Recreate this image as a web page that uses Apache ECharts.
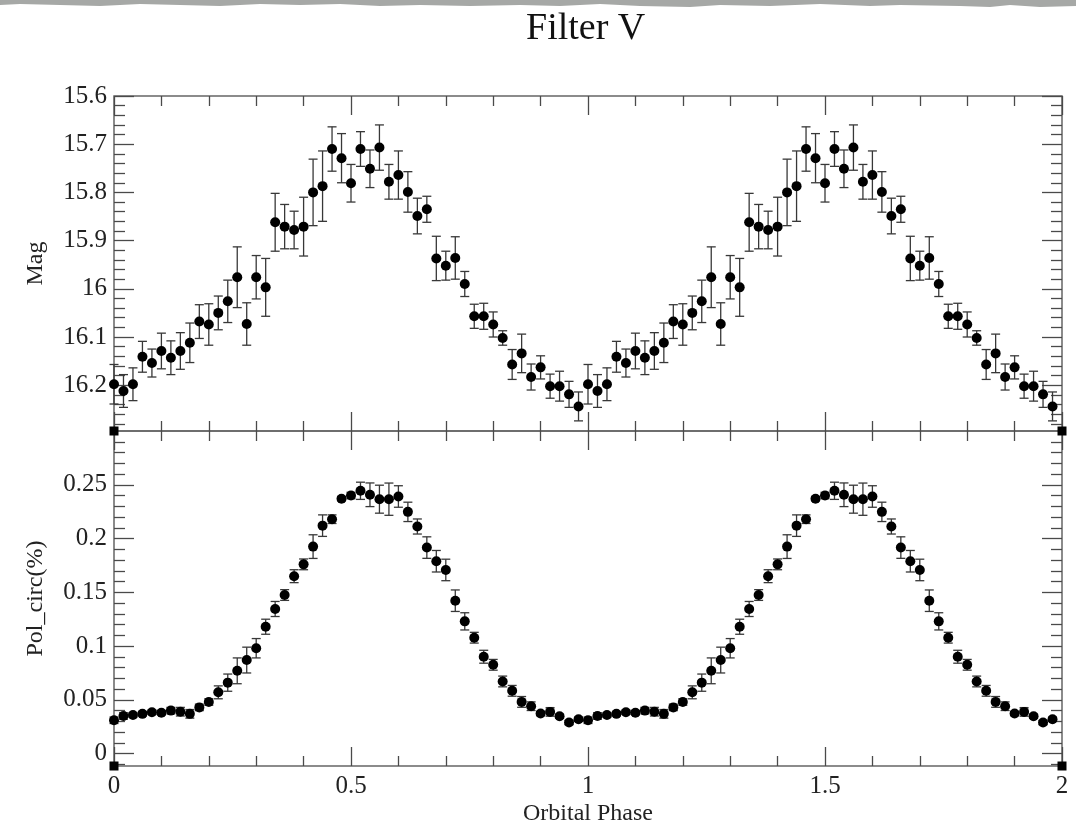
<!DOCTYPE html>
<html>
<head>
<meta charset="utf-8">
<title>Filter V</title>
<script src="https://cdn.jsdelivr.net/npm/echarts@6/dist/echarts.min.js"></script>
<style>
  html, body { margin: 0; padding: 0; background: #ffffff; }
  #chart { width: 1076px; height: 833px; }
</style>
</head>
<body>
<div id="chart"></div>
<script>
// Phase bins of one orbital cycle (the plot repeats it over two cycles)
const phase = [0.00, 0.02, 0.04, 0.06, 0.08, 0.10, 0.12, 0.14, 0.16, 0.18,
               0.20, 0.22, 0.24, 0.26, 0.28, 0.30, 0.32, 0.34, 0.36, 0.38,
               0.40, 0.42, 0.44, 0.46, 0.48, 0.50, 0.52, 0.54, 0.56, 0.58,
               0.60, 0.62, 0.64, 0.66, 0.68, 0.70, 0.72, 0.74, 0.76, 0.78,
               0.80, 0.82, 0.84, 0.86, 0.88, 0.90, 0.92, 0.94, 0.96, 0.98];

// V magnitude and its 1-sigma error
const magV = [16.198, 16.212, 16.198, 16.141, 16.154, 16.129, 16.143, 16.129, 16.112, 16.068,
              16.074, 16.050, 16.026, 15.976, 16.073, 15.976, 15.997, 15.862, 15.871, 15.878,
              15.871, 15.800, 15.787, 15.710, 15.729, 15.781, 15.710, 15.751, 15.707, 15.778,
              15.764, 15.799, 15.849, 15.835, 15.937, 15.952, 15.936, 15.990, 16.057, 16.057,
              16.074, 16.102, 16.157, 16.134, 16.183, 16.163, 16.202, 16.202, 16.219, 16.244];
const magErr = [0.041, 0.034, 0.034, 0.032, 0.029, 0.037, 0.035, 0.038, 0.041, 0.035,
                0.043, 0.035, 0.044, 0.063, 0.044, 0.045, 0.060, 0.060, 0.046, 0.039,
                0.061, 0.069, 0.073, 0.046, 0.051, 0.039, 0.036, 0.039, 0.047, 0.036,
                0.050, 0.042, 0.037, 0.027, 0.046, 0.030, 0.044, 0.026, 0.025, 0.027,
                0.026, 0.015, 0.031, 0.040, 0.027, 0.024, 0.025, 0.031, 0.027, 0.030];

// Circular polarisation and its 1-sigma error
const polCirc = [0.0310, 0.0350, 0.0360, 0.0370, 0.0385, 0.0380, 0.0400, 0.0390, 0.0370, 0.0430,
                 0.0480, 0.0570, 0.0660, 0.0770, 0.0870, 0.0980, 0.1180, 0.1345, 0.1475, 0.1650,
                 0.1760, 0.1925, 0.2120, 0.2180, 0.2370, 0.2400, 0.2444, 0.2407, 0.2366, 0.2366,
                 0.2391, 0.2248, 0.2112, 0.1916, 0.1789, 0.1708, 0.1422, 0.1230, 0.1078, 0.0901,
                 0.0826, 0.0671, 0.0584, 0.0481, 0.0441, 0.0373, 0.0388, 0.0348, 0.0289, 0.0320];
const polErr = [0.003, 0.003, 0.002, 0.002, 0.002, 0.002, 0.003, 0.004, 0.004, 0.003,
                0.003, 0.006, 0.008, 0.012, 0.012, 0.009, 0.007, 0.007, 0.005, 0.006,
                0.005, 0.011, 0.010, 0.004, 0.002, 0.003, 0.008, 0.011, 0.013, 0.015,
                0.010, 0.009, 0.007, 0.010, 0.010, 0.010, 0.010, 0.008, 0.005, 0.006,
                0.005, 0.005, 0.005, 0.005, 0.004, 0.002, 0.004, 0.002, 0.002, 0.002];

// Labelled tick values
const xTicks = [0, 0.5, 1, 1.5, 2];
const magTicks = [15.6, 15.7, 15.8, 15.9, 16, 16.1, 16.2];
const polTicks = [0, 0.05, 0.1, 0.15, 0.2, 0.25];
const cycles = [0, 1];

// Unlabelled (minor) tick positions between the labelled ones
function minorTicks(start, step, count, every, offset) {
  const out = [];
  for (let k = 0; k <= count; k++) {
    if ((k + offset) % every !== 0) out.push(Math.round((start + step * k) * 10000) / 10000);
  }
  return out;
}
const xMinor = minorTicks(0, 0.1, 20, 5, 0);
const magMinor = minorTicks(15.6, 0.02, 34, 5, 0);
const polMinor = minorTicks(-0.01, 0.01, 39, 5, -1);

// Fold the single-cycle bins onto two cycles
function folded(values, errors) {
  const pts = [], bars = [];
  cycles.forEach(c => {
    phase.forEach((p, i) => {
      const x = Math.round((p + c) * 100) / 100;
      pts.push([x, values[i]]);
      bars.push([x, values[i] - errors[i], values[i] + errors[i]]);
    });
  });
  return { pts, bars };
}
const magData = folded(magV, magErr);
const polData = folded(polCirc, polErr);

const FONT = '"Liberation Serif", "Times New Roman", serif';
const INK = '#222222';
const TICK = { color: '#4a4a4a', width: 1.3 };

const MAG_MIN = 15.6, MAG_MAX = 16.295;
const POL_MIN = -0.0115, POL_MAX = 0.3;

function xAxisDef(grid, pos, values, len, withLabels, name) {
  return {
    type: 'value', gridIndex: grid, position: pos, min: 0, max: 2,
    axisLine: { show: false, onZero: false },
    splitLine: { show: false },
    axisTick: { show: true, inside: true, length: len, customValues: values, lineStyle: TICK },
    axisLabel: withLabels
      ? { show: true, customValues: values, margin: 8, color: INK, fontFamily: FONT, fontSize: 25 }
      : { show: false },
    name: name || '',
    nameLocation: 'middle', nameGap: 36,
    nameTextStyle: { color: INK, fontFamily: FONT, fontSize: 24 }
  };
}
function yAxisDef(grid, pos, min, max, inverse, values, len, withLabels, name) {
  return {
    type: 'value', gridIndex: grid, position: pos, min: min, max: max, inverse: inverse,
    axisLine: { show: false, onZero: false },
    splitLine: { show: false },
    axisTick: { show: true, inside: true, length: len, customValues: values, lineStyle: TICK },
    axisLabel: withLabels
      ? { show: true, customValues: values, margin: 7, color: INK, fontFamily: FONT, fontSize: 25 }
      : { show: false },
    name: name || '',
    nameLocation: 'middle', nameGap: 66,
    nameTextStyle: { color: INK, fontFamily: FONT, fontSize: 24 }
  };
}

function errorBarItem(params, api) {
  const x = api.value(0);
  const lo = api.coord([x, api.value(1)]);
  const hi = api.coord([x, api.value(2)]);
  const w = 4.5;
  const style = { stroke: '#383838', lineWidth: 1.3, fill: null };
  return {
    type: 'group',
    children: [
      { type: 'line', shape: { x1: lo[0], y1: lo[1], x2: hi[0], y2: hi[1] }, style: style },
      { type: 'line', shape: { x1: lo[0] - w, y1: lo[1], x2: lo[0] + w, y2: lo[1] }, style: style },
      { type: 'line', shape: { x1: hi[0] - w, y1: hi[1], x2: hi[0] + w, y2: hi[1] }, style: style }
    ]
  };
}

const GRID_L = 114, GRID_W = 948, TOP0 = 96, H0 = 335, TOP1 = 431, H1 = 335;

// Corner markers on the panel frames
const corners = [[GRID_L, TOP1], [GRID_L, TOP1 + H1], [GRID_L + GRID_W, TOP1], [GRID_L + GRID_W, TOP1 + H1]];

// Torn grey edge along the top of the page
const tornEdge = [[0, 0], [1076, 0], [1076, 6], [1040, 7], [1010, 5], [990, 7], [960, 6], [900, 5],
                  [870, 6], [820, 4], [770, 6], [720, 5], [690, 7], [640, 6], [600, 4], [560, 6],
                  [520, 5], [470, 6], [420, 5], [380, 6], [340, 4], [300, 5], [260, 4], [220, 6],
                  [180, 5], [140, 4], [100, 6], [60, 5], [20, 4], [0, 5]];

const chart = echarts.init(document.getElementById('chart'), null, { renderer: 'canvas' });

chart.setOption({
  backgroundColor: '#ffffff',
  animation: false,
  title: {
    text: 'Filter V', left: 526, top: 10, padding: 0,
    textStyle: { fontFamily: FONT, fontSize: 38, fontWeight: 'normal', color: '#111111' }
  },
  grid: [
    { left: GRID_L, top: TOP0, width: GRID_W, height: H0, show: true, borderColor: '#666666', borderWidth: 1.5, backgroundColor: 'transparent' },
    { left: GRID_L, top: TOP1, width: GRID_W, height: H1, show: true, borderColor: '#666666', borderWidth: 1.5, backgroundColor: 'transparent' }
  ],
  xAxis: [
    xAxisDef(0, 'bottom', xTicks, 19, false),
    xAxisDef(0, 'bottom', xMinor, 10, false),
    xAxisDef(0, 'top', xTicks, 19, false),
    xAxisDef(0, 'top', xMinor, 10, false),
    xAxisDef(1, 'bottom', xTicks, 19, true, 'Orbital Phase'),
    xAxisDef(1, 'bottom', xMinor, 10, false),
    xAxisDef(1, 'top', xTicks, 19, false),
    xAxisDef(1, 'top', xMinor, 10, false)
  ],
  yAxis: [
    yAxisDef(0, 'left', MAG_MIN, MAG_MAX, true, magTicks, 20, true, 'Mag'),
    yAxisDef(0, 'left', MAG_MIN, MAG_MAX, true, magMinor, 11, false),
    yAxisDef(0, 'right', MAG_MIN, MAG_MAX, true, magTicks, 20, false),
    yAxisDef(0, 'right', MAG_MIN, MAG_MAX, true, magMinor, 11, false),
    yAxisDef(1, 'left', POL_MIN, POL_MAX, false, polTicks, 20, true, 'Pol_circ(%)'),
    yAxisDef(1, 'left', POL_MIN, POL_MAX, false, polMinor, 11, false),
    yAxisDef(1, 'right', POL_MIN, POL_MAX, false, polTicks, 20, false),
    yAxisDef(1, 'right', POL_MIN, POL_MAX, false, polMinor, 11, false)
  ],
  series: [
    {
      type: 'custom', name: 'Mag error', xAxisIndex: 0, yAxisIndex: 0,
      renderItem: errorBarItem, encode: { x: 0, y: [1, 2] }, data: magData.bars, z: 2, clip: false
    },
    {
      type: 'scatter', name: 'Mag', xAxisIndex: 0, yAxisIndex: 0,
      data: magData.pts, symbol: 'circle', symbolSize: 10,
      itemStyle: { color: '#000000', opacity: 1 }, z: 3
    },
    {
      type: 'custom', name: 'Pol error', xAxisIndex: 4, yAxisIndex: 4,
      renderItem: errorBarItem, encode: { x: 0, y: [1, 2] }, data: polData.bars, z: 2, clip: false
    },
    {
      type: 'scatter', name: 'Pol_circ', xAxisIndex: 4, yAxisIndex: 4,
      data: polData.pts, symbol: 'circle', symbolSize: 10,
      itemStyle: { color: '#000000', opacity: 1 }, z: 3
    }
  ],
  graphic: [
    { type: 'polygon', shape: { points: tornEdge }, style: { fill: '#a6a8a6' }, z: 10 }
  ].concat(corners.map(c => ({
    type: 'rect', shape: { x: c[0] - 4.5, y: c[1] - 4.5, width: 9, height: 9 },
    style: { fill: '#000000' }, z: 10
  })))
});
</script>
</body>
</html>
